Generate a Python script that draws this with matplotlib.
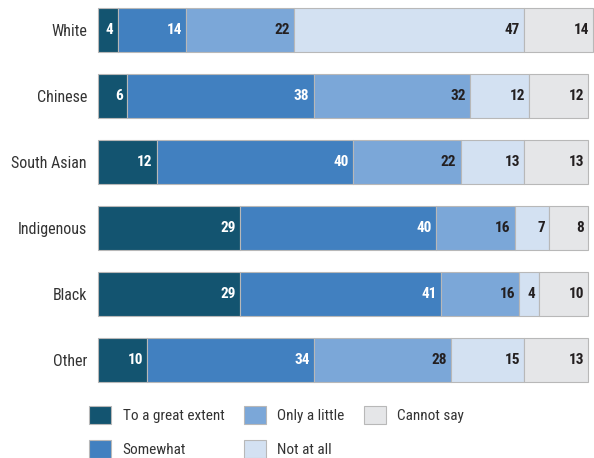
import matplotlib
matplotlib.use("Agg")
import matplotlib.pyplot as plt
import numpy as np
from matplotlib import font_manager

categories = ["White", "Chinese", "South Asian", "Indigenous", "Black", "Other"]
series_names = ["To a great extent", "Somewhat", "Only a little", "Not at all", "Cannot say"]
great = [4, 6, 12, 29, 29, 10]
somewhat = [14, 38, 40, 40, 41, 34]
little = [22, 32, 22, 16, 16, 28]
not_at_all = [47, 12, 13, 7, 4, 15]
cannot = [14, 12, 13, 8, 10, 13]
series = [great, somewhat, little, not_at_all, cannot]

colors = ["#135470", "#4180C0", "#7BA7D8", "#D3E1F2", "#E5E6E8"]
text_colors = ["white", "white", "#231f20", "#231f20", "#231f20"]

avail = {f.name for f in font_manager.fontManager.ttflist}
fam = None
for cand in ["Liberation Sans Narrow", "Roboto Condensed", "Open Sans Condensed", "DejaVu Sans Condensed", "DejaVu Sans"]:
    if cand in avail:
        fam = cand
        break
plt.rcParams['font.family'] = [fam, 'DejaVu Sans']

fig = plt.figure(figsize=(5.94, 4.58), dpi=100)
ax_top, ax_bot = 7, 393
ax = fig.add_axes([98/594, 1 - ax_bot/458, (590-98)/594, (ax_bot-ax_top)/458])

y = np.arange(len(categories))
left = np.zeros(len(categories))
for vals, name, col, tc in zip(series, series_names, colors, text_colors):
    vals = np.array(vals, dtype=float)
    bars = ax.barh(y, vals, left=left, height=0.67, color=col, edgecolor="#b8b8b8",
                   linewidth=0.8, label=name)
    for b in bars:
        b.set_clip_on(False)
    for yi, (l, v) in enumerate(zip(left, vals)):
        ax.annotate(f"{int(v)}", xy=(l + v, yi), xytext=(-3, 0), textcoords="offset points",
                    ha="right", va="center", fontsize=11, fontweight="bold", color=tc,
                    annotation_clip=False)
    left += vals

ax.set_xlim(0, 100.4)
ax.set_ylim(len(categories) - 0.5, -0.35)
ax.set_yticks(y)
ax.set_yticklabels(categories, fontsize=11.5, color="#333333")
ax.tick_params(axis="y", length=0, pad=8)
ax.set_xticks([])
for s in ax.spines.values():
    s.set_visible(False)

leg = fig.legend(loc="upper left", bbox_to_anchor=(83/594, 1 - 400/458), ncol=3,
                 frameon=False, fontsize=11, handlelength=1.45, handleheight=1.45,
                 columnspacing=1.25, labelspacing=1.05, handletextpad=0.75,
                 borderaxespad=0)
for t in leg.get_texts():
    t.set_color("#333333")

fig.savefig("out.png", dpi=100)
